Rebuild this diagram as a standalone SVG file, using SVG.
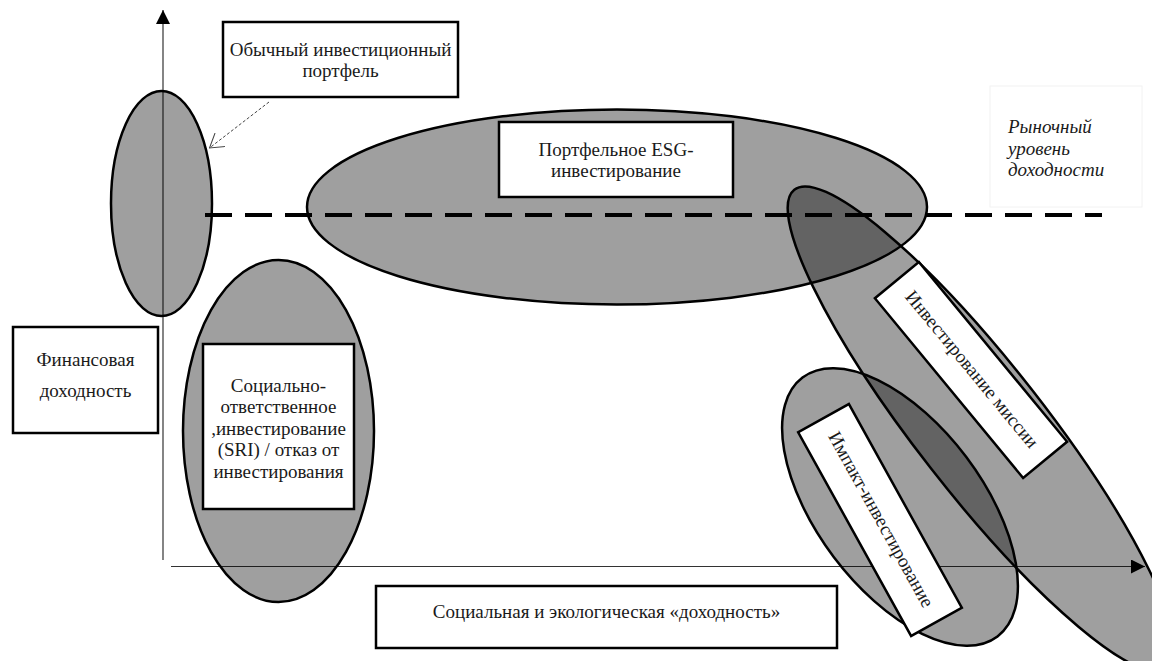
<svg xmlns="http://www.w3.org/2000/svg" width="1152" height="661" viewBox="0 0 1152 661">
<style>
.bg{fill:#ffffff}
.axis{stroke:#333333;stroke-width:1.2;fill:none}
.area{fill:#000000;fill-opacity:0.375;stroke:#000000;stroke-width:2.5}
.box{fill:#ffffff;stroke:#000000;stroke-width:2.5}
.t{font-family:"Liberation Serif","Times New Roman",serif;font-size:19px;fill:#1a1a1a;text-anchor:middle}
.ti{font-family:"Liberation Serif","Times New Roman",serif;font-size:19px;font-style:italic;fill:#1a1a1a}
.level{stroke:#000000;stroke-width:4;stroke-dasharray:27 13;fill:none}
.pointer{stroke:#444444;stroke-width:1;stroke-dasharray:3 2;fill:none}
</style>
<defs>
<marker id="axisArrow" viewBox="0 0 14 14" refX="14" refY="7" markerWidth="14" markerHeight="14" markerUnits="userSpaceOnUse" orient="auto">
<path d="M0,0 L14,7 L0,14 Z" fill="#000000"/>
</marker>
<marker id="openArrow" viewBox="0 0 17 17" refX="16" refY="8.5" markerWidth="17" markerHeight="17" markerUnits="userSpaceOnUse" orient="auto">
<path d="M2.4,0 L16,8.5 L2.4,17" fill="none" stroke="#444444" stroke-width="1"/>
</marker>
</defs>
<rect class="bg" x="0" y="0" width="1152" height="661"/>
<g id="axes">
<line class="axis" x1="163" y1="560" x2="163" y2="10" marker-end="url(#axisArrow)"/>
<line class="axis" x1="171" y1="566.5" x2="1145" y2="566.5" marker-end="url(#axisArrow)"/>
</g>
<g id="conventional">
<ellipse class="area" cx="161.5" cy="203.5" rx="50.5" ry="112.5"/>
</g>
<g id="esg">
<ellipse class="area" cx="617" cy="207" rx="310" ry="97.5"/>
</g>
<g id="sri">
<ellipse class="area" cx="278.5" cy="431" rx="95.5" ry="171"/>
</g>
<g id="mission">
<ellipse class="area" cx="0" cy="0" rx="304" ry="64" transform="translate(981.5 429.2) rotate(52)"/>
</g>
<g id="impact">
<ellipse class="area" cx="0" cy="0" rx="162" ry="83" transform="translate(900 507) rotate(53)"/>
</g>
<g id="connectors">
<line class="level" x1="205" y1="215" x2="1102" y2="215"/>
<line class="pointer" x1="269" y1="102" x2="209.5" y2="148" marker-end="url(#openArrow)"/>
</g>
<g id="conventional-label">
<rect class="box" x="223" y="22" width="235" height="75"/>
<text class="t" x="340.5" y="56">Обычный инвестиционный</text>
<text class="t" x="340.5" y="77">портфель</text>
</g>
<g id="esg-label">
<rect class="box" x="499" y="122" width="234" height="75"/>
<text class="t" x="616" y="155.5">Портфельное ESG-</text>
<text class="t" x="616" y="177">инвестирование</text>
</g>
<g id="market-level">
<rect x="990" y="86" width="152" height="121" fill="#ffffff" stroke="#f2f2f2" stroke-width="1"/>
<text class="ti" x="1008" y="133">Рыночный</text>
<text class="ti" x="1008" y="155">уровень</text>
<text class="ti" x="1008" y="176">доходности</text>
</g>
<g id="financial">
<rect class="box" x="13" y="327" width="145" height="106"/>
<text class="t" x="85.5" y="366">Финансовая</text>
<text class="t" x="85.5" y="397">доходность</text>
</g>
<g id="sri-label">
<rect class="box" x="203" y="344" width="151" height="165"/>
<text class="t" x="278.5" y="391.5">Социально-</text>
<text class="t" x="278.5" y="413">ответственное</text>
<text class="t" x="278.5" y="434.5">,инвестирование</text>
<text class="t" x="278.5" y="456">(SRI) / отказ от</text>
<text class="t" x="278.5" y="477.5">инвестирования</text>
</g>
<g id="mission-label" transform="translate(971 370) rotate(50.5)">
<rect class="box" x="-116.5" y="-28.5" width="233" height="57"/>
<text class="t" x="0" y="5">Инвестирование миссии</text>
</g>
<g id="impact-label" transform="translate(880 520) rotate(61)">
<rect class="box" x="-116.5" y="-29" width="233" height="58"/>
<text class="t" x="0" y="5">Импакт-инвестирование</text>
</g>
<g id="social-axis-label">
<rect class="box" x="376" y="586" width="461" height="62"/>
<text class="t" x="606.5" y="618">Социальная и экологическая «доходность»</text>
</g>
</svg>
